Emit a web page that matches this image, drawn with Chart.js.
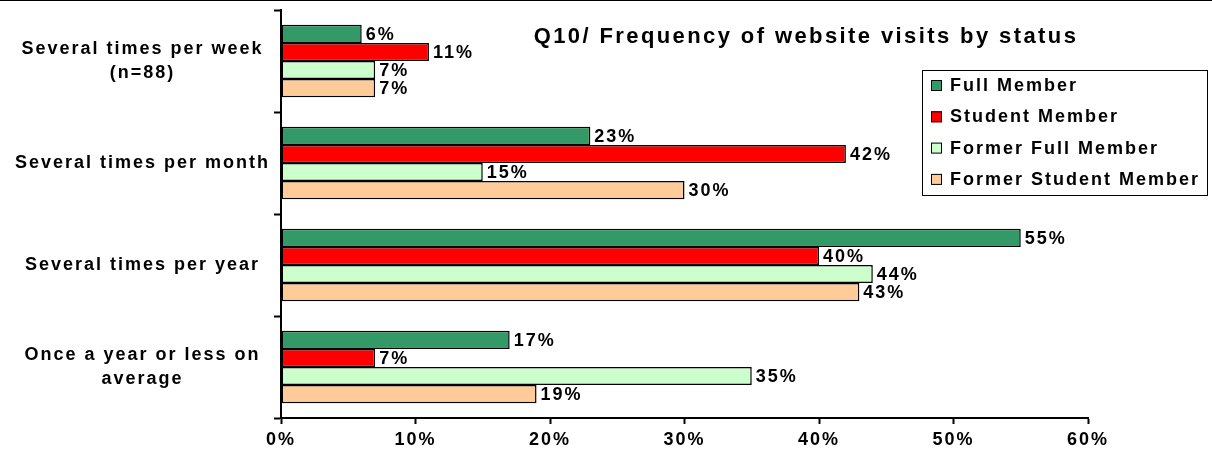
<!DOCTYPE html>
<html>
<head>
<meta charset="utf-8">
<script src="https://cdn.jsdelivr.net/npm/chart.js@4"></script>
<style>
  html, body { margin: 0; padding: 0; background: #fff; }
  #wrap { width: 1212px; height: 460px; }
</style>
</head>
<body>
<div id="wrap"><canvas id="Q10_CHART"></canvas></div>
<script>
// categories and series
const categories = [
    ["Several times per week", "(n=88)"],
    "Several times per month",
    "Several times per year",
    ["Once a year or less on", "average"]
];
const seriesNames = ["Full Member", "Student Member", "Former Full Member", "Former Student Member"];
const fullMember = [6, 23, 55, 17];
const studentMember = [11, 42, 40, 7];
const formerFullMember = [7, 15, 44, 35];
const formerStudentMember = [7, 30, 43, 19];
const seriesColors = ["#339966", "#FF0000", "#CCFFCC", "#FFCC99"];
const xTicks = [0, 10, 20, 30, 40, 50, 60];
const titleText = "Q10/ Frequency of website visits by status";

const FONT = "'Liberation Sans', Arial, sans-serif";
const SPACING = '2px';

// wide letter spacing like the original export
const spacing = {
    id: 'spacing',
    beforeLayout(chart) { chart.ctx.letterSpacing = SPACING; },
    beforeDraw(chart) { chart.ctx.letterSpacing = SPACING; }
};

// labels at bar ends, title, legend box and the top rule
const extras = {
    id: 'extras',
    afterDatasetsDraw(chart) {
        const ctx = chart.ctx;
        ctx.save();
        ctx.letterSpacing = SPACING;
        ctx.font = `bold 18px ${FONT}`;
        ctx.fillStyle = '#000';
        ctx.textBaseline = 'middle';
        ctx.textAlign = 'left';
        chart.data.datasets.forEach((ds, i) => {
            chart.getDatasetMeta(i).data.forEach((bar, j) => {
                ctx.fillText(`${ds.data[j]}%`, bar.x + 4, bar.y + 1);
            });
        });
        ctx.restore();
    },
    afterDraw(chart) {
        const ctx = chart.ctx;
        const area = chart.chartArea;
        ctx.save();
        ctx.fillStyle = '#000';
        ctx.fillRect(0, 0, chart.width, 1);

        // title
        ctx.letterSpacing = '2.4px';
        ctx.font = `bold 22px ${FONT}`;
        ctx.textAlign = 'center';
        ctx.textBaseline = 'middle';
        ctx.fillText(titleText, area.left + 525, area.top + 27);

        // legend
        ctx.letterSpacing = SPACING;
        const lx = 922, ly = 70, lw = 285, lh = 125;
        ctx.fillStyle = '#fff';
        ctx.fillRect(lx, ly, lw, lh);
        ctx.strokeStyle = '#000';
        ctx.lineWidth = 1;
        ctx.strokeRect(lx + 0.5, ly + 0.5, lw, lh);
        ctx.font = `bold 18px ${FONT}`;
        ctx.textAlign = 'left';
        chart.data.datasets.forEach((ds, i) => {
            const y = ly + 15 + i * 31.3;
            ctx.fillStyle = ds.backgroundColor;
            ctx.fillRect(lx + 9, y - 5, 11, 11);
            ctx.strokeStyle = '#000';
            ctx.strokeRect(lx + 9.5, y - 4.5, 10, 10);
            ctx.fillStyle = '#000';
            ctx.fillText(ds.label, lx + 28, y + 1);
        });
        ctx.restore();
    }
};

let ctx = document.getElementById('Q10_CHART');
let myChart = new Chart(ctx, {
    type: 'bar',
    data: {
        labels: categories,
        datasets: [
            { label: seriesNames[0], data: fullMember, backgroundColor: seriesColors[0] },
            { label: seriesNames[1], data: studentMember, backgroundColor: seriesColors[1] },
            { label: seriesNames[2], data: formerFullMember, backgroundColor: seriesColors[2] },
            { label: seriesNames[3], data: formerStudentMember, backgroundColor: seriesColors[3] }
        ]
    },
    options: {
        indexAxis: 'y',
        responsive: true,
        maintainAspectRatio: false,
        animation: false,
        layout: { padding: { top: 10, right: 124, left: 0, bottom: 0 } },
        datasets: {
            bar: {
                borderColor: '#000',
                borderWidth: 1.5,
                borderSkipped: false,
                categoryPercentage: 0.71,
                barPercentage: 1
            }
        },
        scales: {
            x: {
                min: 0,
                max: 60,
                afterBuildTicks(axis) {
                    axis.ticks = xTicks.map(v => ({ value: v }));
                },
                afterFit(axis) { axis.height = 42; },
                grid: {
                    drawOnChartArea: false,
                    color: '#000',
                    tickLength: 6,
                    tickWidth: 2
                },
                border: { color: '#000', width: 2 },
                ticks: {
                    color: '#000',
                    font: { family: FONT, size: 18, weight: 'bold' },
                    padding: 5,
                    maxRotation: 0,
                    callback: v => `${v}%`
                }
            },
            y: {
                afterFit(axis) {
                    axis.width = 281;
                    axis.paddingTop = 0;
                    axis.paddingBottom = 0;
                },
                grid: {
                    offset: true,
                    drawOnChartArea: false,
                    color: '#000',
                    tickLength: 7,
                    tickWidth: 2
                },
                border: { color: '#000', width: 2 },
                ticks: {
                    color: '#000',
                    crossAlign: 'center',
                    padding: 4,
                    font: { family: FONT, size: 18, weight: 'bold', lineHeight: 1.3 }
                }
            }
        },
        plugins: {
            legend: { display: false },
            tooltip: { enabled: false }
        }
    },
    plugins: [spacing, extras]
});
</script>
</body>
</html>
